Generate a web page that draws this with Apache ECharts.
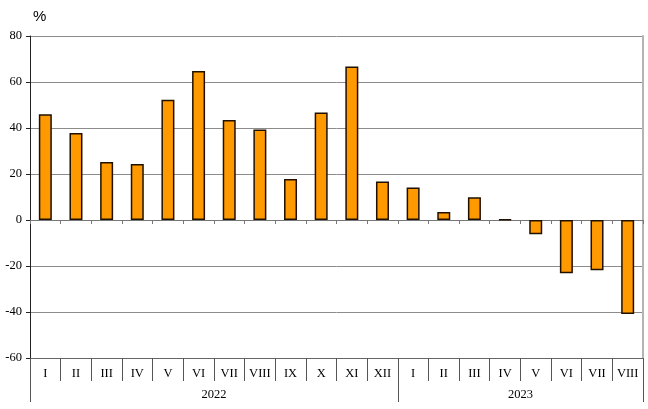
<!DOCTYPE html>
<html>
<head>
<meta charset="utf-8">
<script src="https://cdn.jsdelivr.net/npm/echarts@6/dist/echarts.min.js"></script>
<style>html,body{margin:0;padding:0;background:#fff}#c{width:648px;height:409px}</style>
</head>
<body>
<div id="c"></div>
<script>
const months = ["I","II","III","IV","V","VI","VII","VIII","IX","X","XI","XII","I","II","III","IV","V","VI","VII","VIII"];
const values = [46.0,37.8,25.2,24.3,52.3,64.8,43.5,39.4,17.8,46.7,66.7,16.7,14.1,3.5,9.9,0.3,-6.2,-23.2,-21.9,-40.9];
const years = ["2022","2023"];
const yearCenters = [6,16];
const yearBounds = [0,12,20];
const yTicks = {min:-60,max:80,interval:20};
const serif = "'Liberation Serif','DejaVu Serif',serif";

const chart = echarts.init(document.getElementById('c'), null, {renderer:'canvas'});
chart.setOption({
  animation:false,
  title:{text:'%',left:28,top:4,textStyle:{fontFamily:"'Liberation Sans',Arial,sans-serif",fontSize:15,fontWeight:'normal',color:'#000'}},
  grid:{left:30,right:5,top:36,bottom:51,containLabel:false},
  xAxis:[
    {type:'category',data:months,position:'bottom',
     axisLine:{show:true,onZero:false,lineStyle:{color:'#666',width:1}},
     axisTick:{show:true,interval:0,length:23,lineStyle:{color:'#555'}},
     axisLabel:{interval:0,margin:9,fontFamily:serif,fontSize:12.5,color:'#000'},
     splitLine:{show:false}},
    {type:'category',data:months,position:'bottom',
     axisLine:{show:true,onZero:true,lineStyle:{color:'#777',width:1}},
     axisTick:{show:true,interval:0,length:4,lineStyle:{color:'#777'}},
     axisLabel:{show:false},splitLine:{show:false}},
    {type:'value',min:0,max:20,position:'bottom',
     axisLine:{show:false,onZero:false},
     axisTick:{show:true,length:44,customValues:yearBounds,lineStyle:{color:'#555'}},
     axisLabel:{show:true,customValues:yearCenters,margin:30,fontFamily:serif,fontSize:12.5,color:'#000',
       formatter:function(v){const i=yearCenters.indexOf(v);return i>=0?years[i]:'';}},
     splitLine:{show:false}}
  ],
  yAxis:[
    {type:'value',min:yTicks.min,max:yTicks.max,interval:yTicks.interval,
     axisLine:{show:true,onZero:false,lineStyle:{color:'#222',width:1}},
     axisTick:{show:true,length:4,lineStyle:{color:'#222'}},
     axisLabel:{margin:8,fontFamily:serif,fontSize:12.5,color:'#000'},
     splitLine:{show:true,lineStyle:{color:'#8c8c8c',width:1}}},
    {type:'value',position:'right',min:yTicks.min,max:yTicks.max,interval:yTicks.interval,
     axisLine:{show:true,onZero:false,lineStyle:{color:'#b4b4b4',width:2}},
     axisTick:{show:false},axisLabel:{show:false},splitLine:{show:false}}
  ],
  series:[{
    type:'bar',xAxisIndex:0,yAxisIndex:0,data:values,barWidth:13,
    itemStyle:{color:'#FF9900',borderColor:'#1f1000',borderWidth:1.5}
  }]
});
</script>
</body>
</html>
